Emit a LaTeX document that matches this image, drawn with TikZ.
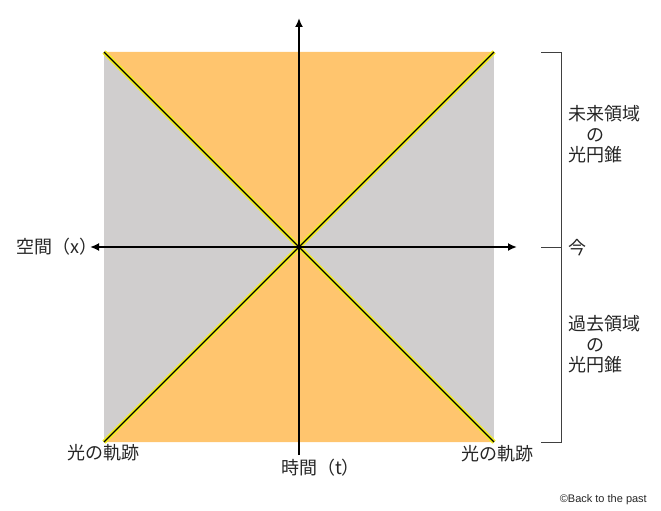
\documentclass[tikz,border=0pt]{standalone}
\usepackage{fontspec}
\setmainfont{Noto Sans CJK JP}
\newfontfamily\latinsans{Liberation Sans}
\usetikzlibrary{arrows.meta}
\definecolor{conecol}{HTML}{FFC56E}
\definecolor{outcol}{HTML}{D0CECE}
\definecolor{glowcol}{HTML}{F2EE1C}
\tikzset{
  lbl/.style={font=\fontsize{18}{21.5}\selectfont, text=black!85, inner sep=0pt},
  axis/.style={line width=2pt, -{Latex[length=9pt,width=8pt]}},
  glow/.style={glowcol, line width=4.5pt},
  ray/.style={black, line width=1.1pt},
  brk/.style={black!75, line width=0.8pt},
}
\begin{document}
\begin{tikzpicture}[x=1pt,y=-1pt]
\useasboundingbox (0,0) rectangle (661,511);
\coordinate (tl) at (104,52);
\coordinate (tr) at (494,52);
\coordinate (bl) at (104,442);
\coordinate (br) at (494,442);
\coordinate (o) at (299,247);
% regions
\fill[outcol] (tl) rectangle (br);
\fill[conecol] (tl) -- (tr) -- (o) -- cycle;
\fill[conecol] (bl) -- (br) -- (o) -- cycle;
% light rays
\draw[glow] (tl) -- (br);
\draw[glow] (tr) -- (bl);
\draw[ray] (tl) -- (br);
\draw[ray] (tr) -- (bl);
% axes
\coordinate (tbot) at (299,455);
\coordinate (ttop) at (299,18);
\coordinate (xl) at (90,247);
\coordinate (xr) at (517,247);
\draw[axis] (tbot) -- (ttop);
\draw[axis, {Latex[length=9pt,width=8pt]}-{Latex[length=9pt,width=8pt]}] (xl) -- (xr);
% bracket
\coordinate (b1) at (541,52);
\coordinate (b2) at (561,52);
\coordinate (b3) at (541,247);
\coordinate (b4) at (561,247);
\coordinate (b5) at (541,442);
\coordinate (b6) at (561,442);
\draw[brk] (b1) -- (b2) -- (b6) -- (b5);
\draw[brk] (b3) -- (b4);
% labels
\node[lbl, anchor=west] (fut) at (568,137) {\begin{tabular}{@{}l@{}}未来領域\\[-1pt]\hspace{1em}の\\[-1pt]光円錐\end{tabular}};
\node[lbl, anchor=west] (now) at (568,248) {今};
\node[lbl, anchor=west] (past) at (568,347) {\begin{tabular}{@{}l@{}}過去領域\\[-1pt]\hspace{1em}の\\[-1pt]光円錐\end{tabular}};
\node[lbl, anchor=west] (space) at (16,247) {空間（x）};
\node[lbl, anchor=west] (time) at (281,468) {時間（t）};
\node[lbl, anchor=west] (rayl) at (67,453) {光の軌跡};
\node[lbl, anchor=west] (rayr) at (461,454) {光の軌跡};
\node[inner sep=0pt, anchor=east, font=\latinsans\fontsize{11}{13}\selectfont, text=black!85] (copy) at (647,500) {©Back to the past};
\end{tikzpicture}
\end{document}
